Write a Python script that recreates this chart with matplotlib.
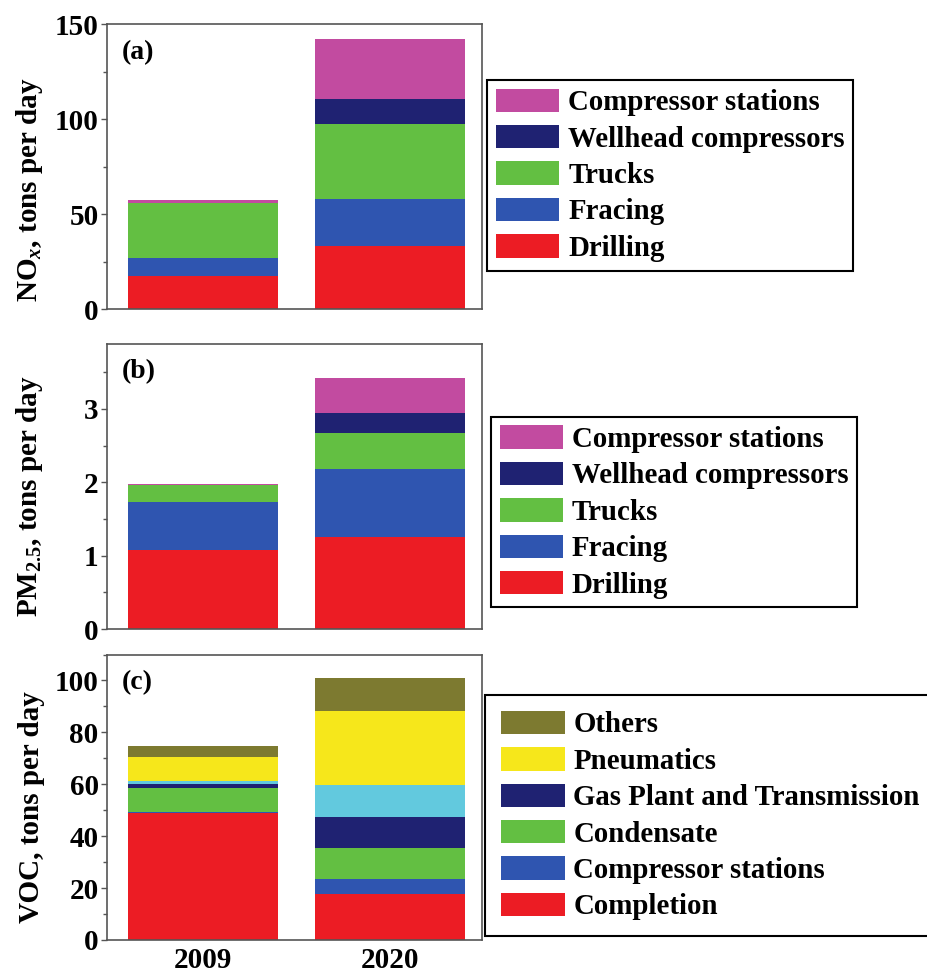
import matplotlib.pyplot as plt
from matplotlib.ticker import MultipleLocator

plt.rcParams['font.family'] = ['Liberation Serif', 'DejaVu Serif']
plt.rcParams['font.weight'] = 'bold'
plt.rcParams['mathtext.fontset'] = 'custom'
plt.rcParams['mathtext.rm'] = 'Liberation Serif:bold'
plt.rcParams['mathtext.it'] = 'Liberation Serif:italic:bold'
plt.rcParams['mathtext.bf'] = 'Liberation Serif:bold'

years = ['2009', '2020']

# NOx, tons per day
nox_drilling = [17.7, 33.5]
nox_fracing = [9.1, 24.7]
nox_trucks = [28.9, 39.4]
nox_wellhead = [0.0, 13.0]
nox_compressor = [1.8, 31.5]

# PM2.5, tons per day
pm_drilling = [1.08, 1.26]
pm_fracing = [0.65, 0.92]
pm_trucks = [0.23, 0.49]
pm_wellhead = [0.0, 0.27]
pm_compressor = [0.02, 0.48]

# VOC, tons per day
voc_completion = [48.9, 17.6]
voc_compressor = [0.6, 5.8]
voc_condensate = [9.1, 12.0]
voc_gasplant = [1.5, 12.1]
voc_unlisted = [1.3, 12.1]
voc_pneumatics = [9.1, 28.6]
voc_others = [4.4, 12.8]

RED = '#ec1c24'
BLUE = '#2f55b0'
GREEN = '#63bf42'
NAVY = '#1f2272'
MAGENTA = '#c24ba0'
CYAN = '#62c9de'
YELLOW = '#f6e71b'
OLIVE = '#7d7a30'

nox_series = [('Drilling', nox_drilling, RED), ('Fracing', nox_fracing, BLUE),
              ('Trucks', nox_trucks, GREEN), ('Wellhead compressors', nox_wellhead, NAVY),
              ('Compressor stations', nox_compressor, MAGENTA)]
pm_series = [('Drilling', pm_drilling, RED), ('Fracing', pm_fracing, BLUE),
             ('Trucks', pm_trucks, GREEN), ('Wellhead compressors', pm_wellhead, NAVY),
             ('Compressor stations', pm_compressor, MAGENTA)]
voc_series = [('Completion', voc_completion, RED), ('Compressor stations', voc_compressor, BLUE),
              ('Condensate', voc_condensate, GREEN), ('Gas Plant and Transmission', voc_gasplant, NAVY),
              ('_nolegend_', voc_unlisted, CYAN), ('Pneumatics', voc_pneumatics, YELLOW),
              ('Others', voc_others, OLIVE)]

fig = plt.figure(figsize=(9.28, 9.76), dpi=100)

# bottom, series, ylabel, label height, ylim, major, minor, tag, legend corner, legend border pad
panels = [
    (0.6829, nox_series, r'NO$_{x}$, tons per day', 0.42, (0, 150), 50, 25, '(a)', (0.525, 0.918), 0.3),
    (0.3555, pm_series, r'PM$_{\mathit{2.5}}$, tons per day', 0.465, (0, 3.89), 1, 0.5, '(b)', (0.529, 0.573), 0.3),
    (0.0369, voc_series, 'VOC, tons per day', 0.465, (0, 110), 20, 10, '(c)', (0.523, 0.288), 0.55),
]

for i, (bottom, series, ylabel, ly, ylim, major, minor, tag, leg_pos, bpad) in enumerate(panels):
    ax = fig.add_axes([0.1153, bottom, 0.404, 0.2925])
    base = [0.0, 0.0]
    handles = []
    for label, vals, color in series:
        h = ax.bar([0, 1], vals, width=0.8, bottom=base, color=color, label=label, linewidth=0)
        if not label.startswith('_'):
            handles.append(h)
        base = [b + v for b, v in zip(base, vals)]

    ax.set_xlim(-0.51, 1.49)
    ax.set_ylim(*ylim)
    ax.yaxis.set_major_locator(MultipleLocator(major))
    ax.yaxis.set_minor_locator(MultipleLocator(minor))
    ax.tick_params(axis='y', which='major', direction='out', length=4, width=1, labelsize=21, pad=2,
                   color='#555555')
    ax.tick_params(axis='y', which='minor', direction='out', length=3, width=1, color='#555555')
    if i == 2:
        ax.set_xticks([0, 1])
        ax.set_xticklabels(years, fontsize=21)
        ax.tick_params(axis='x', length=0, pad=5)
    else:
        ax.set_xticks([])
    for sp in ax.spines.values():
        sp.set_color('#555555')
        sp.set_linewidth(1.2)
    ax.set_ylabel(ylabel, fontsize=21, fontweight='bold')
    ax.yaxis.set_label_coords(-0.165, ly)
    ax.text(0.04, 0.9, tag, transform=ax.transAxes, fontsize=20, fontweight='bold', va='center')

    leg = fig.legend(handles[::-1], [h.get_label() for h in handles[::-1]],
                     loc='upper left', bbox_to_anchor=leg_pos, bbox_transform=fig.transFigure,
                     prop={'family': 'Liberation Serif', 'weight': 'bold', 'size': 20.8},
                     frameon=True, fancybox=False, edgecolor='black', framealpha=1,
                     handlelength=2.2, handleheight=0.87, handletextpad=0.3,
                     labelspacing=0.3, borderpad=bpad, borderaxespad=0)
    leg.get_frame().set_linewidth(1.5)

fig.savefig('out.png', dpi=100)
